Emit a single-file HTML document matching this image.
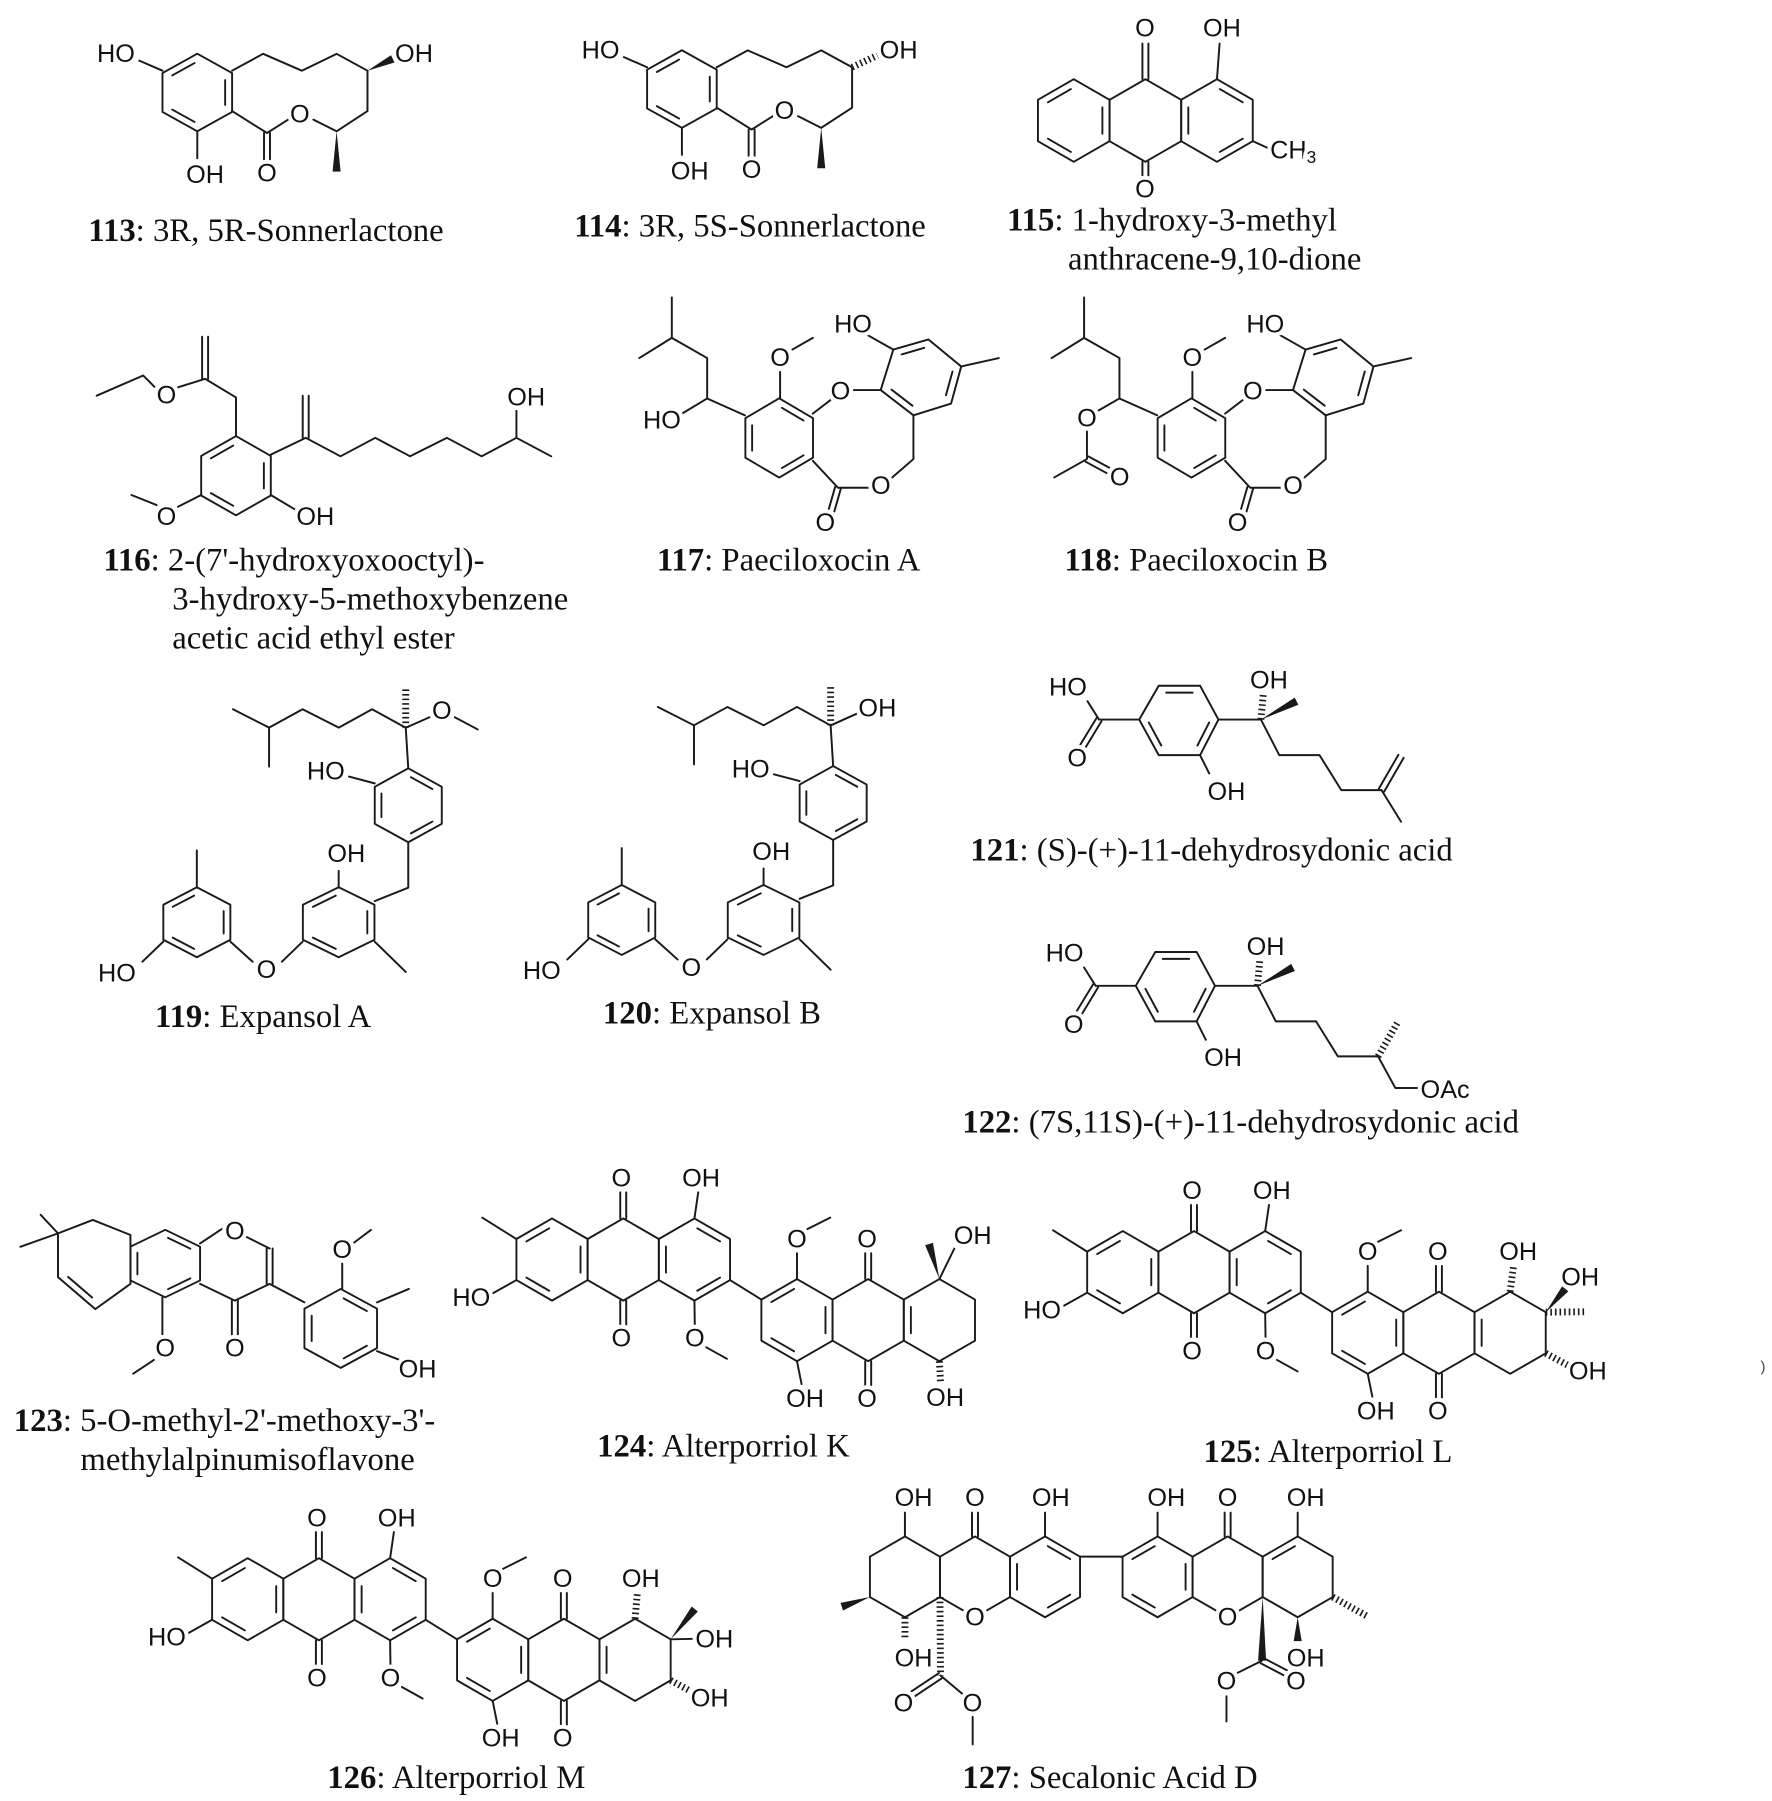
<!DOCTYPE html>
<html><head><meta charset="utf-8"><style>
html,body{margin:0;padding:0;background:#fff}
svg{display:block}
.b{fill:none;stroke:#1a1a1a;stroke-width:1.7;stroke-linecap:round;stroke-linejoin:round}
.r{fill:none;stroke:#1a1a1a;stroke-width:1.9;vector-effect:non-scaling-stroke;stroke-linecap:round;stroke-linejoin:round}
.h{fill:none;stroke:#1a1a1a;stroke-width:6;stroke-dasharray:1.4 2.6}
.w{fill:#1a1a1a;stroke:none}
text.a{font-family:"Liberation Sans",sans-serif;font-size:22px;fill:#111;stroke:#fff;stroke-width:7px;paint-order:stroke;stroke-linejoin:round;text-anchor:middle;dominant-baseline:central}
text.s{font-family:"Liberation Sans",sans-serif;font-size:22px;fill:#111;stroke:#fff;stroke-width:7px;paint-order:stroke;dominant-baseline:central}
text.l{font-family:"Liberation Serif",serif;font-size:28.5px;fill:#111}
</style></head><body>
<svg xmlns="http://www.w3.org/2000/svg" xmlns:xlink="http://www.w3.org/1999/xlink" width="1772" height="1801" viewBox="0 0 1560 1585" preserveAspectRatio="none">
<defs>
<path id="hx" class="r" d="M0,-1L.866,-.5L.866,.5L0,1L-.866,.5L-.866,-.5Z"/>
<path id="d135" class="r" d="M.693,-.32L.693,.32M-.069,.76L-.624,.44M-.624,-.44L-.069,-.76"/>
<path id="d024" class="r" d="M.069,-.76L.624,-.44M.624,.44L.069,.76M-.693,.32L-.693,-.32"/>
<path id="d4" class="r" d="M-.693,.32L-.693,-.32"/>
<path id="d5" class="r" d="M-.624,-.44L-.069,-.76"/>

<g id="s113">
<use href="#hx" transform="translate(171.8,80.6) scale(35,33.8)"/>
<use href="#d135" transform="translate(171.8,80.6) scale(35,33.8)"/>
<path class="b" d="M141.5,61.6L121.3,52.8M171.8,114.4L171.8,137.9M202.1,61.6L229.1,46.9L262.8,61.6L293.1,46.9L320,61.6L320,96.8L293.1,114.4L272.9,104.2M251,104.2L232.5,115.9L202.1,96.8M229.9,115.9L229.9,139M235.1,115.9L235.1,139"/>
<polygon class="w" points="293.1,114.4 296.6,149.6 289.6,149.6"/>
</g>

<g id="s117">
<use href="#hx" transform="translate(678.5,383.6) scale(34,34.5)"/>
<use href="#d024" transform="translate(678.5,383.6) scale(34,34.5)"/>
<path class="b" d="M777.9,306.6L808.5,297.8L837,321.3L828.2,353.6L795.4,363.9L766.9,341.9Z M785.2,310.8L804.8,305.1M829.4,325.8L823.7,346.4M794.5,355.5L776.3,341.5"/>
<path class="b" d="M679.3,349.2L679.3,326M690,306.6L707.8,296.4M707.8,362.4L723,350.7M742.8,341.9L766.9,341.9M777.9,306.6L752,292M837,321.3L869.8,314M795.4,363.9L795.4,402L777,418M757,427L729.7,427L707.8,403.5M732.2,427.7L726.5,447.7M727.2,426.3L721.5,446.3M648.7,363.9L615.8,349.2L615.8,314L585,296.4L556.7,314M585,296.4L585,261.2"/>
</g>

<g id="s119">
<use href="#hx" transform="translate(355.5,708.7) scale(33.7,32.2)"/>
<use href="#d024" transform="translate(355.5,708.7) scale(33.7,32.2)"/>
<use href="#hx" transform="translate(294.9,810.6) scale(36,30.5)"/>
<use href="#d135" transform="translate(294.9,810.6) scale(36,30.5)"/>
<use href="#hx" transform="translate(171.4,810.6) scale(33.7,30.5)"/>
<use href="#d135" transform="translate(171.4,810.6) scale(33.7,30.5)"/>
<path class="b" d="M355.5,676.4L353.3,641.1M353.3,641.1L324,625L295,641L263.5,625L234.3,641L202.9,625M234.3,641L234.3,675M326.3,689.6L303.9,683.7M355.5,740.9L355.5,780.5L326.3,792.2M294.9,780.5L294.9,765.8M326.3,827.5L353.3,853.9M263.5,827.5L245.5,845M220,845L200.6,827.5M171.4,780.5L171.4,748M142.2,827.5L124,845"/>
<path class="h" d="M353.3,641.1L353.3,607.4"/>
</g>

<g id="s121">
<path class="b" d="M1013,604.5L1049,604.5L1065,634L1049,665L1013,665L996,634Z M1019.5,610.5L1042.5,610.5M1056.9,636.6L1046.7,656.6M1015.2,656.6L1004.4,636.6"/>
<path class="b" d="M996,634L961,634L951,618M963.2,635.4L949.2,658.4M958.8,632.7L944.8,655.7M1049,665L1057,681M1065,634L1102,634M1102,634L1118,665L1153,665L1172,695.5L1207,695.5"/>
<path class="h" d="M1102,634L1104,612"/>
<polygon class="w" points="1102,634 1134.6,621.1 1131.4,614.9"/>
</g>

<g id="saq">
<use href="#hx" transform="translate(217.7,1405.5) scale(35.8)"/>
<use href="#d135" transform="translate(217.7,1405.5) scale(35.8)"/>
<use href="#hx" transform="translate(279.7,1405.5) scale(35.8)"/>
<use href="#hx" transform="translate(341.7,1405.5) scale(35.8)"/>
<use href="#d024" transform="translate(341.7,1405.5) scale(35.8)"/>
<use href="#hx" transform="translate(431,1458.3) scale(35.8)"/>
<use href="#d135" transform="translate(431,1458.3) scale(35.8)"/>
<use href="#hx" transform="translate(493,1458.3) scale(35.8)"/>
<use href="#hx" transform="translate(555,1458.3) scale(35.8)"/>
<use href="#d4" transform="translate(555,1458.3) scale(35.8)"/>
<path class="b" d="M186.7,1387.6L157,1369M186.7,1423.4L166,1435M277.1,1369.7L277.1,1347M282.3,1369.7L282.3,1347M277.1,1441.3L277.1,1462M282.3,1441.3L282.3,1462M341.7,1369.7L345,1347M341.7,1441.3L342,1462M352,1482L370,1492M372.7,1423.4L400,1440.4M431,1422.5L431,1400M440,1379L460,1369M490.4,1422.5L490.4,1400M495.6,1422.5L495.6,1400M490.4,1494.1L490.4,1515M495.6,1494.1L495.6,1515M431,1494.1L435,1514"/>
<text class="a" x="278" y="1335">O</text><text class="a" x="347.5" y="1335">OH</text><text class="a" x="147.4" y="1439">HO</text><text class="a" x="278" y="1474.5">O</text><text class="a" x="342" y="1474.5">O</text><text class="a" x="431" y="1388">O</text><text class="a" x="492" y="1388">O</text><text class="a" x="438" y="1527">OH</text><text class="a" x="492" y="1527">O</text>
</g>
</defs>
<rect width="1560" height="1585" fill="#fff"/>
<g transform="scale(1.011,1.01)">

<!-- 113/114 -->
<use href="#s113"/>
<polygon class="w" points="320,61.6 343.5,54.5 340.5,48.1"/>
<g transform="translate(422,-3)"><use href="#s113"/><path class="h" d="M320,61.6L342,51.3"/></g>
<g><text class="a" x="101" y="47">HO</text><text class="a" x="178.6" y="152.6">OH</text><text class="a" x="360.5" y="46.9">OH</text><text class="a" x="261.1" y="99.8">O</text><text class="a" x="232.5" y="151.1">O</text></g>
<g transform="translate(422,-3)"><text class="a" x="101" y="47">HO</text><text class="a" x="178.6" y="152.6">OH</text><text class="a" x="360.5" y="46.9">OH</text><text class="a" x="261.1" y="99.8">O</text><text class="a" x="232.5" y="151.1">O</text></g>

<!-- 115 -->
<use href="#hx" transform="translate(935,105) scale(36)"/>
<use href="#d135" transform="translate(935,105) scale(36)"/>
<use href="#hx" transform="translate(997.4,105) scale(36)"/>
<use href="#hx" transform="translate(1059.7,105) scale(36)"/>
<use href="#d024" transform="translate(1059.7,105) scale(36)"/>
<path class="b" d="M994.8,69L994.8,38M1000,69L1000,38M994.8,141L994.8,153M1000,141L1000,153M1059.7,69L1062,38M1090.9,123L1104,129"/>
<text class="a" x="997" y="25">O</text><text class="a" x="1064" y="25">OH</text><text class="a" x="997" y="165">O</text>
<text class="s" x="1106" y="131">CH<tspan font-size="15" dy="6">3</tspan></text>

<!-- 116 -->
<use href="#hx" transform="translate(205.5,414.5) scale(35,34.5)"/>
<use href="#d135" transform="translate(205.5,414.5) scale(35,34.5)"/>
<path class="b" d="M205.5,380L205.5,346.3L178.6,330.1L155,337.5M134.5,337L124.7,327.2L84.2,344.8M176,330.1L176,293.4M181.2,330.1L181.2,293.4M235.8,396.1L266.2,381.5M263.6,381.5L263.6,344.8M268.8,381.5L268.8,344.8M266.2,381.5L296.5,397.6L326.8,381.5L357.1,397.6L389.1,381.5L419.4,397.6L449.7,381.5L480,397.6M449.7,381.5L449.7,358M235.8,431.3L257,444M175.2,431.3L155,441.6M136.4,440.1L114.5,431.3"/>
<text class="a" x="144.9" y="344.8">O</text><text class="a" x="458.2" y="346.3">OH</text><text class="a" x="274.6" y="450.4">OH</text><text class="a" x="144.9" y="450.4">O</text>

<!-- 117/118 -->
<g transform="translate(0,-2)">
<use href="#s117"/>
<path class="b" d="M615.8,349.2L593.9,362.4"/>
<g transform="translate(359,0)"><use href="#s117"/>
<path class="b" d="M615.8,349.2L597,360M587.5,378L587.5,402L559,418M586.3,404.3L604.8,414.3M588.7,399.7L607.2,409.7"/></g>
<g><text class="a" x="679.3" y="314">O</text><text class="a" x="731.9" y="343.3">O</text><text class="a" x="742.8" y="284.6">HO</text><text class="a" x="767" y="425.5">O</text><text class="a" x="718.7" y="457.7">O</text><text class="a" x="576.4" y="368.3">HO</text></g>
<g transform="translate(359,0)"><text class="a" x="679.3" y="314">O</text><text class="a" x="731.9" y="343.3">O</text><text class="a" x="742.8" y="284.6">HO</text><text class="a" x="767" y="425.5">O</text><text class="a" x="718.7" y="457.7">O</text><text class="a" x="587.5" y="366.8">O</text><text class="a" x="616" y="418">O</text></g>
</g>

<!-- 119/120 -->
<g transform="translate(0,-7)">
<use href="#s119"/>
<path class="b" d="M353.3,641.1L374,632M396,632L416,642.6"/>
<g transform="translate(370,-2)"><use href="#s119"/><path class="b" d="M353.3,641.1L378,630"/></g>
<g><text class="a" x="384.7" y="626.5">O</text><text class="a" x="283.7" y="679.3">HO</text><text class="a" x="301.6" y="751.2">OH</text><text class="a" x="232" y="852.4">O</text><text class="a" x="101.8" y="855.3">HO</text></g>
<g transform="translate(370,-2)"><text class="a" x="394" y="626.5">OH</text><text class="a" x="283.7" y="679.3">HO</text><text class="a" x="301.6" y="751.2">OH</text><text class="a" x="232" y="852.4">O</text><text class="a" x="101.8" y="855.3">HO</text></g>
</g>

<!-- 121/122 -->
<g transform="translate(-4,-7)">
<use href="#s121"/>
<path class="b" d="M1209.3,696.8L1226.3,667.3M1204.7,694.2L1221.7,664.7M1207,695.5L1224,723"/>
<text class="a" x="934" y="606">HO</text><text class="a" x="942" y="668">O</text><text class="a" x="1072" y="697">OH</text><text class="a" x="1109" y="600">OH</text>
</g>
<g transform="translate(-7,225)"><use href="#s121"/>
<path class="h" d="M1207,695.5L1224,666"/><path class="b" d="M1207,695.5L1222,723L1242,723"/>
<text class="a" x="934" y="606">HO</text><text class="a" x="942" y="668">O</text><text class="a" x="1072" y="697">OH</text><text class="a" x="1109" y="600">OH</text><text class="s" x="1244" y="725">OAc</text></g>

<!-- 123 -->
<g transform="translate(0,-11)">
<path class="b" d="M80.8,1074L113.6,1087.1L113.6,1129.7L83,1151.7L50.5,1123.8L50.5,1085.7Z M59.3,1123.6L80.2,1141.6M50.5,1085.7L17.7,1097.4M50.5,1085.7L35.4,1069.5"/>
<use href="#hx" transform="translate(143.9,1112) scale(35,29.4)"/>
<use href="#d024" transform="translate(143.9,1112) scale(35,29.4)"/>
<path class="b" d="M196,1080L174.2,1094.5M213,1088L234.8,1098.9M232.2,1098.9L232.2,1129.7M237.4,1098.9L237.4,1129.7M234.8,1129.7L204.5,1144.3L174.2,1129.7M201.9,1144.3L201.9,1174M207.1,1144.3L207.1,1174M141.4,1141.4L141.4,1174M134,1196L116,1208"/>
<use href="#hx" transform="translate(296.7,1168.5) scale(36.5,34.4)"/>
<use href="#d024" transform="translate(296.7,1168.5) scale(36.5,34.4)"/>
<path class="b" d="M234.8,1129.7L265.1,1145.8M298,1134.1L298,1112M308,1094L323,1082.7M328.3,1145.8L356,1134.1M328.3,1188.3L348,1196"/>
<text class="a" x="204.5" y="1084.2">O</text><text class="a" x="204.5" y="1186">O</text><text class="a" x="143.9" y="1186">O</text><text class="a" x="298" y="1100.3">O</text><text class="a" x="363.6" y="1204.5">OH</text>
</g>

<!-- 126 -->
<g transform="translate(-2,-12)">
<use href="#saq"/>
<path class="h" d="M555,1422.5L557,1400M586,1476.2L606,1487"/>
<polygon class="w" points="586,1440.4 609.7,1416.2 604.3,1411.8"/>
<path class="b" d="M586,1440.4L607,1440"/>
<text class="a" x="560" y="1388">OH</text><text class="a" x="624" y="1440.7">OH</text><text class="a" x="620" y="1492">OH</text>
</g>
<!-- 124 -->
<g transform="translate(263,-308)"><use href="#saq"/>
<polygon class="w" points="555,1422.5 549.4,1391 542.6,1393"/>
<path class="b" d="M555,1422.5L568,1396"/><path class="h" d="M555,1494.1L556,1512"/>
<text class="a" x="584" y="1385">OH</text><text class="a" x="560" y="1526">OH</text></g>
<!-- 125 -->
<g transform="translate(760,-297)"><use href="#saq"/>
<path class="h" d="M555,1422.5L558,1400M586,1440.4L620,1440M586,1476.2L606,1487"/>
<polygon class="w" points="586,1440.4 605.7,1422.2 600.3,1417.8"/>
<text class="a" x="562" y="1388">OH</text><text class="a" x="616" y="1410">OH</text><text class="a" x="622.6" y="1492">OH</text></g>

<!-- 127 -->
<g transform="translate(-7,-12)">
<use href="#hx" transform="translate(795,1386) scale(35.2)"/>
<use href="#hx" transform="translate(856,1386) scale(35.2)"/>
<use href="#hx" transform="translate(917,1386) scale(35.2)"/>
<use href="#d024" transform="translate(917,1386) scale(35.2)"/>
<use href="#hx" transform="translate(1015,1386) scale(35.2)"/>
<use href="#d135" transform="translate(1015,1386) scale(35.2)"/>
<use href="#hx" transform="translate(1076,1386) scale(35.2)"/>
<use href="#hx" transform="translate(1137,1386) scale(35.2)"/>
<use href="#d5" transform="translate(1137,1386) scale(35.2)"/>
<path class="b" d="M795,1350.8L795,1330M853.4,1350.8L853.4,1330M858.6,1350.8L858.6,1330M917,1350.8L917,1330M1015,1350.8L1015,1330M1073.4,1350.8L1073.4,1330M1078.6,1350.8L1078.6,1330M1137,1350.8L1137,1330M947.5,1368.4L984.5,1368.4M827.4,1474.2L803.4,1490.2M824.6,1469.8L800.6,1485.8M826,1472L845,1488M854,1508L854,1532M1106,1459L1084,1470M1104.8,1461.3L1125.8,1472.3M1107.2,1456.7L1128.2,1467.7M1075,1490L1075,1512"/>
<polygon class="w" points="764.5,1403.6 741.1,1415.3 738.9,1408.7"/>
<path class="h" d="M795,1421.2L795,1441M825.5,1403.6L826,1472M1167.5,1403.6L1197,1420"/>
<polygon class="w" points="1106.5,1403.6 1109.5,1459 1102.5,1459"/>
<polygon class="w" points="1137,1421.2 1140.5,1442 1133.5,1442"/>
<circle cx="856" cy="1421.6" r="9" fill="#fff"/>
<circle cx="1076" cy="1421.6" r="9" fill="#fff"/>
<text class="a" x="802.5" y="1317.5">OH</text><text class="a" x="856" y="1317.5">O</text><text class="a" x="922" y="1317.5">OH</text><text class="a" x="1022.6" y="1317.5">OH</text><text class="a" x="1076" y="1317.5">O</text><text class="a" x="1144" y="1317.5">OH</text>
<text class="a" x="856" y="1421.6">O</text><text class="a" x="1076" y="1421.6">O</text><text class="a" x="802.5" y="1457">OH</text><text class="a" x="793.7" y="1496.5">O</text><text class="a" x="853.8" y="1496.5">O</text><text class="a" x="1075" y="1477">O</text><text class="a" x="1135.5" y="1477">O</text><text class="a" x="1144" y="1457">OH</text>
</g>

<!-- labels -->
<text class="l" x="77" y="210"><tspan font-weight="bold">113</tspan>: 3R, 5R-Sonnerlactone</text>
<text class="l" x="500" y="206"><tspan font-weight="bold">114</tspan>: 3R, 5S-Sonnerlactone</text>
<text class="l" x="877" y="201"><tspan font-weight="bold">115</tspan>: 1-hydroxy-3-methyl</text>
<text class="l" x="930" y="235">anthracene-9,10-dione</text>
<text class="l" x="90" y="497"><tspan font-weight="bold">116</tspan>: 2-(7'-hydroxyoxooctyl)-</text>
<text class="l" x="150" y="531">3-hydroxy-5-methoxybenzene</text>
<text class="l" x="150" y="565">acetic acid ethyl ester</text>
<text class="l" x="572" y="497"><tspan font-weight="bold">117</tspan>: Paeciloxocin A</text>
<text class="l" x="927" y="497"><tspan font-weight="bold">118</tspan>: Paeciloxocin B</text>
<text class="l" x="135" y="895"><tspan font-weight="bold">119</tspan>: Expansol A</text>
<text class="l" x="525" y="892"><tspan font-weight="bold">120</tspan>: Expansol B</text>
<text class="l" x="845" y="750"><tspan font-weight="bold">121</tspan>: (S)-(+)-11-dehydrosydonic acid</text>
<text class="l" x="838" y="987"><tspan font-weight="bold">122</tspan>: (7S,11S)-(+)-11-dehydrosydonic acid</text>
<text class="l" x="12" y="1247"><tspan font-weight="bold">123</tspan>: 5-O-methyl-2'-methoxy-3'-</text>
<text class="l" x="70" y="1281">methylalpinumisoflavone</text>
<text class="l" x="520" y="1269"><tspan font-weight="bold">124</tspan>: Alterporriol K</text>
<text class="l" x="1048" y="1274"><tspan font-weight="bold">125</tspan>: Alterporriol L</text>
<text class="l" x="285" y="1558"><tspan font-weight="bold">126</tspan>: Alterporriol M</text>
<text class="l" x="838" y="1558"><tspan font-weight="bold">127</tspan>: Secalonic Acid D</text>
<text x="1533" y="1195" font-family="Liberation Sans" font-size="13" fill="#444">)</text>
</g>
</svg>
</body></html>
